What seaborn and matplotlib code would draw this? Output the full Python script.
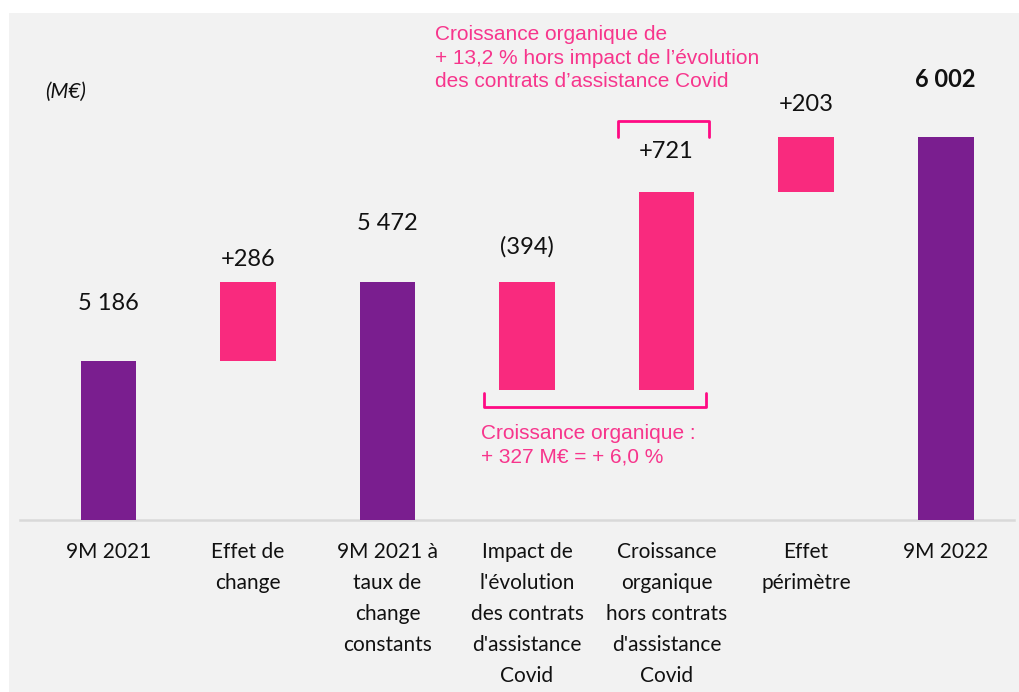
import pandas as pd
import seaborn as sns
import matplotlib.pyplot as plt
from matplotlib.patches import Rectangle

# data
categories = ['9M 2021', 'Effet de\nchange', '9M 2021 à\ntaux de\nchange\nconstants',
              "Impact de\nl'évolution\ndes contrats\nd'assistance\nCovid",
              'Croissance\norganique\nhors contrats\nd\'assistance\nCovid',
              'Effet\npérimètre', '9M 2022']
values = [5186, 286, 5472, -394, 721, 203, 6002]
is_total = [True, False, True, False, False, False, True]
value_labels = ['5 186', '+286', '5 472', '(394)', '+721', '+203', '6 002']

purple = '#7a1e8f'
pink = '#f92a7e'
bracket_pink = '#ff0a84'
text_pink = '#f7358c'
bg = '#f2f2f2'

# waterfall bottoms / heights
bottoms, heights = [], []
running = 0
for v, tot in zip(values, is_total):
    if tot:
        bottoms.append(0)
        heights.append(v)
        running = v
    else:
        bottoms.append(running)
        heights.append(v)
        running += v
df = pd.DataFrame({'cat': categories, 'height': heights, 'bottom': bottoms})

fig = plt.figure(figsize=(10.2, 6.92), dpi=100, facecolor='white')
fig.patches.append(Rectangle((9 / 1020, 0), 1, 1 - 13 / 692, transform=fig.transFigure,
                             facecolor=bg, edgecolor='none', zorder=-10))
ax = fig.add_axes([20 / 1020, 172 / 692, 994 / 1020, 500 / 692])
ax.set_facecolor('none')

sns.barplot(data=df, x='cat', y='height', bottom=df['bottom'], width=0.4,
            color=purple, errorbar=None, ax=ax, zorder=3)
for p, tot in zip(ax.patches, is_total):
    p.set_facecolor(purple if tot else pink)
    p.set_edgecolor('none')

ax.set_xlim(-0.634, 6.49)
ax.set_ylim(4605, 6427)

# value labels, offsets in pixels above each bar top
offsets = [57, 23, 59, 35, 41, 32, 57]
for i, (b, h, lab) in enumerate(zip(bottoms, heights, value_labels)):
    top = max(b, b + h)
    ax.annotate(lab, (i, top), xytext=(0, offsets[i]), textcoords='offset pixels',
                ha='center', va='center', fontsize=17, family=['Lato', 'DejaVu Sans'],
                fontweight='bold' if i == 6 else 'normal', color='#111111')

ax.set_xlabel('')
ax.set_ylabel('')
ax.set_yticks([])
for s in ['top', 'right', 'left']:
    ax.spines[s].set_visible(False)
ax.spines['bottom'].set_color('#d9d9d9')
ax.spines['bottom'].set_linewidth(1.8)
ax.tick_params(axis='x', length=0, pad=16)
ax.set_xticks(range(len(categories)))
ax.set_xticklabels(categories, fontsize=15, family=['Lato', 'DejaVu Sans'],
                   linespacing=1.68, va='top', color='#111111')

# brackets
ax.plot([2.692, 2.692, 4.283, 4.283], [5068, 5017, 5017, 5068], color=bracket_pink,
        lw=2, solid_joinstyle='round', solid_capstyle='round', zorder=4)
ax.plot([3.652, 3.652, 4.305, 4.305], [6001, 6059, 6059, 6001], color=bracket_pink,
        lw=2, solid_joinstyle='round', solid_capstyle='round', zorder=4)

# annotations
fig.text(481 / 1020, 1 - 445 / 692, 'Croissance organique :\n+ 327 M€ = + 6,0 %',
         ha='left', va='center', fontsize=15, color=text_pink,
         family=['Liberation Sans', 'DejaVu Sans'], linespacing=1.3)
fig.text(435 / 1020, 1 - 58 / 692,
         'Croissance organique de\n+ 13,2 % hors impact de l’évolution\ndes contrats d’assistance Covid',
         ha='left', va='center', fontsize=15, color=text_pink,
         family=['Liberation Sans', 'DejaVu Sans'], linespacing=1.3)
fig.text(66 / 1020, 1 - 92 / 692, '(M€)', ha='center', va='center', fontsize=15,
         style='italic', family=['Lato', 'DejaVu Sans'], color='#111111')

fig.savefig('out.png', dpi=100, facecolor=fig.get_facecolor())
